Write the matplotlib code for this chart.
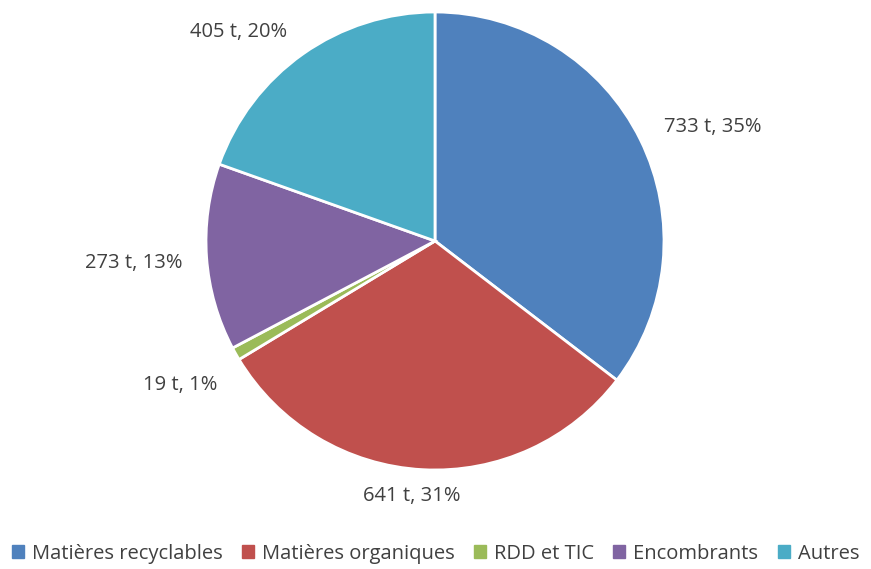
import numpy as np
import matplotlib
matplotlib.use("Agg")
import matplotlib.pyplot as plt

categories = ["Matières recyclables", "Matières organiques", "RDD et TIC", "Encombrants", "Autres"]
tonnes = [733, 641, 19, 273, 405]
percents = [35, 31, 1, 13, 20]
colors = ["#4F81BD", "#C0504D", "#9BBB59", "#8064A2", "#4BACC6"]

plt.rcParams['font.family'] = ['Open Sans', 'DejaVu Sans']

W, H = 871, 569
fig = plt.figure(figsize=(W / 100, H / 100), dpi=100)
cx, cy, r = 435, 241, 229
ax = fig.add_axes([(cx - r) / W, (H - cy - r) / H, 2 * r / W, 2 * r / H])

wedges, _ = ax.pie(tonnes, colors=colors, startangle=90, counterclock=False,
                   wedgeprops=dict(edgecolor="white", linewidth=2))
ax.set_xlim(-1, 1)
ax.set_ylim(-1, 1)
ax.set_aspect("equal")

# label distance and small angle tweak per slice (Excel best-fit placement)
dist = [1.31, 1.12, 1.28, 1.32, 1.25]
shift = [-4, -2, 0, 0, 8]
for w, t, p, d, s in zip(wedges, tonnes, percents, dist, shift):
    ang = np.deg2rad((w.theta1 + w.theta2) / 2 + s)
    ax.text(d * np.cos(ang), d * np.sin(ang), f"{t} t, {p}%", ha="center", va="center",
            fontsize=14.5, color="#404040")

handles = [plt.Rectangle((0, 0), 1, 1, color=c) for c in colors]
fig.legend(handles, categories, loc="center", bbox_to_anchor=(0.5, 0.027), ncol=5,
           frameon=False, fontsize=14.5, handlelength=0.6, handleheight=0.6,
           handletextpad=0.4, columnspacing=0.95, labelcolor="#404040")

fig.savefig("out.png", dpi=100)
